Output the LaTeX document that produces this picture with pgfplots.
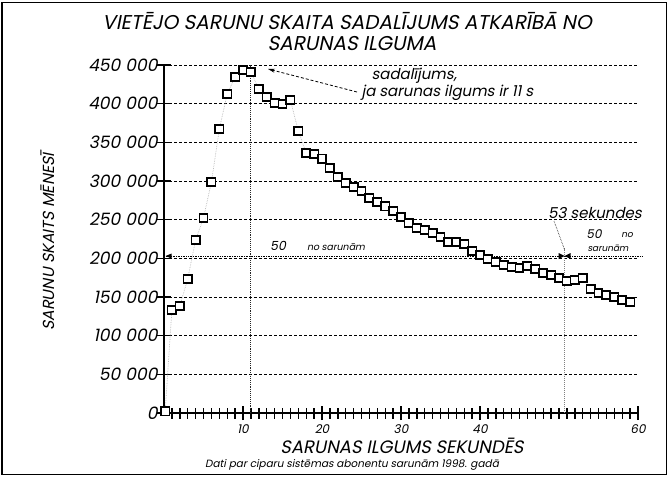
\documentclass[border=0pt]{standalone}
\usepackage{fontspec}
\setmainfont{Poppins}
\usepackage{pgfplots}
\usepackage{pgfplotstable}
\pgfplotsset{compat=1.18}
\usetikzlibrary{arrows.meta}
\newfontfamily\pop[FakeSlant=0.2]{Poppins}
\newcommand\yl[2]{#1\hspace{0.3em}#2}

\pgfplotstableread{
x y
0.15 2500
1 133200
2 138400
3 173300
4 223700
5 252200
6 298700
7 367200
8 412500
9 434500
10 443500
11 441000
12 419000
13 408600
14 400900
15 399600
16 404700
17 364700
18 336200
19 334900
20 329000
21 316800
22 305200
23 297400
24 292200
25 287100
26 278000
27 272800
28 267600
29 261200
30 253400
31 245700
32 239200
33 236600
34 232800
35 227600
36 221100
37 221100
38 218500
39 209500
40 204300
41 199100
42 195200
43 191400
44 188800
45 187500
46 190100
47 186200
48 181000
49 178400
50 174600
51 170700
52 172000
53 174600
54 160300
55 155200
56 152600
57 150000
58 146100
59 143500
}\calls

\begin{document}
\begin{tikzpicture}[x=1pt,y=1pt]
\useasboundingbox (0pt,0pt) rectangle (668pt,477pt);
\draw[line width=0.8pt] (2pt,2.5pt) rectangle (666.5pt,475pt);
\draw[line width=2pt] (2pt,2.5pt) -- (2pt,475pt);
\begin{axis}[
  at={(164pt,64pt)}, anchor=south west,
  scale only axis, width=474pt, height=348pt,
  xmin=0, xmax=60, ymin=0, ymax=450000,
  axis x line*=bottom, axis y line*=left,
  x axis line style={line width=2.6pt},
  y axis line style={line width=2pt},
  tick align=center,
  xtick={10,20,30,40,60},
  xticklabels={10,20,30,40,60},
  minor xtick={1,...,59},
  ytick={0,50000,...,450000},
  yticklabels={0,\yl{50}{000},\yl{100}{000},\yl{150}{000},\yl{200}{000},\yl{250}{000},\yl{300}{000},\yl{350}{000},\yl{400}{000},\yl{450}{000}},
  scaled y ticks=false,
  ymajorgrids,
  major grid style={black, line width=0.9pt, dash pattern=on 2.5pt off 2.5pt},
  every tick/.style={black, line width=1.4pt},
  major tick length=14pt,
  minor tick length=11pt,
  yticklabel style={font=\pop\fontsize{17}{17}\selectfont, xshift=4pt},
  xticklabel style={font=\pop\fontsize{12}{12}\selectfont, yshift=-1pt},
  clip=false,
]
\addplot[gray!55, densely dotted, line width=0.7pt] table[x=x,y=y] {\calls};
\draw[densely dotted, line width=0.9pt, black!85] (axis cs:11,0) -- (axis cs:11,450000);
\draw[densely dotted, line width=1pt, gray] (axis cs:50.7,0) -- (axis cs:50.7,213000);
\draw[densely dotted, line width=0.7pt] (axis cs:0,203000) -- (axis cs:60.5,203000);
\fill (axis cs:0.2,203000) -- ++(6pt,2.5pt) -- ++(0pt,-5pt) -- cycle;
\fill (axis cs:50.7,203000) -- ++(-6pt,3pt) -- ++(0pt,-6pt) -- cycle;
\fill (axis cs:50.7,203000) -- ++(6pt,3pt) -- ++(0pt,-6pt) -- cycle;
\addplot[only marks, mark=square*, mark size=4.2pt, mark options={fill=white, draw=black, line width=1.5pt, solid}] table[x=x,y=y] {\calls};
\end{axis}
\draw[-{Stealth[length=7pt,width=4pt]}, densely dashed, line width=0.8pt] (357pt,385pt) -- (268pt,408pt);
\draw[line width=0.6pt, densely dotted] (554pt,256pt) -- (565pt,226pt);
\node[font=\pop\fontsize{20}{20}\selectfont] at (347pt,456pt) {VIETĒJO SARUNU SKAITA SADALĪJUMS ATKARĪBĀ NO};
\node[font=\pop\fontsize{20}{20}\selectfont] at (352pt,433pt) {SARUNAS ILGUMA};
\node[font=\pop\fontsize{18}{18}\selectfont] at (402pt,31pt) {SARUNAS ILGUMS SEKUNDĒS};
\node[font=\pop\fontsize{10.5}{11}\selectfont] at (352pt,12pt) {Dati par ciparu sistēmas abonentu sarunām 1998. gadā};
\node[rotate=90, font=\pop\fontsize{16}{16}\selectfont] at (48pt,235pt) {SARUNU SKAITS MĒNESĪ};
\node[anchor=west, font=\pop\fontsize{15}{15}\selectfont] at (368pt,401pt) {sadalījums,};
\node[anchor=west, font=\pop\fontsize{15}{15}\selectfont] at (358pt,384pt) {ja sarunas ilgums ir 11 s};
\node[font=\pop\fontsize{15}{15}\selectfont] at (595pt,264pt) {53 sekundes};
\node[font=\pop\fontsize{12.5}{13}\selectfont] at (278pt,231pt) {50};
\node[font=\pop\fontsize{9.5}{10}\selectfont] at (336pt,230pt) {no sarunām};
\node[font=\pop\fontsize{12}{12}\selectfont] at (594pt,243pt) {50};
\node[font=\pop\fontsize{9}{9}\selectfont] at (627pt,242pt) {no};
\node[font=\pop\fontsize{9}{9}\selectfont] at (608pt,229pt) {sarunām};
\end{tikzpicture}
\end{document}
